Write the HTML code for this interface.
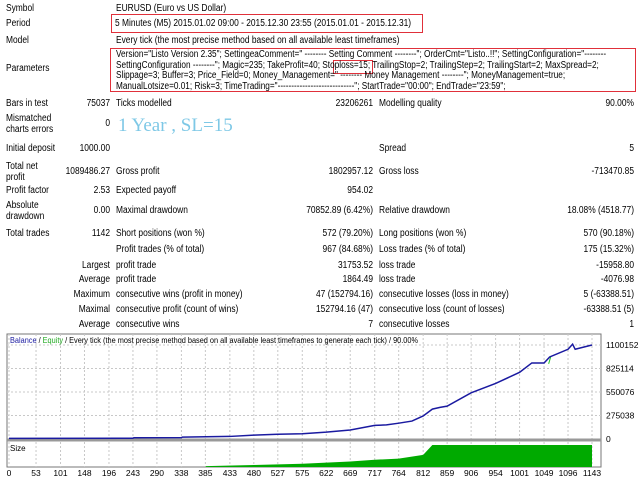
<!DOCTYPE html>
<html><head><meta charset="utf-8">
<style>
body{margin:0;width:640px;height:480px;background:#fff;overflow:hidden;font-family:"Liberation Sans",sans-serif;font-size:10px;color:#000;position:relative}
.t{position:absolute;white-space:nowrap;line-height:11px;transform:scaleX(.84);transform-origin:left top}
.r{text-align:right;transform-origin:right top}
.box{position:absolute;border:1px solid #e0303a}
</style></head><body>
<div id="report">
<div class="t" style="left:6px;top:3px">Symbol</div>
<div class="t" style="left:116px;top:3px">EURUSD (Euro vs US Dollar)</div>
<div class="t" style="left:6px;top:18px">Period</div>
<div class="t" style="left:115px;top:18px">5 Minutes (M5) 2015.01.02 09:00 - 2015.12.30 23:55 (2015.01.01 - 2015.12.31)</div>
<div class="box" style="left:111px;top:14px;width:310px;height:17px"></div>
<div class="t" style="left:6px;top:35px">Model</div>
<div class="t" style="left:116px;top:35px">Every tick (the most precise method based on all available least timeframes)</div>
<div class="t" style="left:6px;top:63px">Parameters</div>
<div class="box" style="left:110px;top:48px;width:524px;height:42px"></div>
<div class="box" style="left:333px;top:60px;width:38px;height:12px"></div>
<div class="t" style="left:116px;top:50px;font-size:9.8px;line-height:10.5px">Version="Listo Version 2.35"; SettingeaComment=" -------- Setting Comment --------"; OrderCmt="Listo..!!"; SettingConfiguration="--------<br>SettingConfiguration --------"; Magic=235; TakeProfit=40; Stoploss=15; TrailingStop=2; TrailingStep=2; TrailingStart=2; MaxSpread=2;<br>Slippage=3; Buffer=3; Price_Field=0; Money_Management=" -------- Money Management --------"; MoneyManagement=true;<br>ManualLotsize=0.01; Risk=3; TimeTrading="----------------------------"; StartTrade="00:00"; EndTrade="23:59";</div>
<div class="t" style="left:6px;top:98px">Bars in test</div>
<div class="t r" style="left:40px;width:70px;top:98px">75037</div>
<div class="t" style="left:116px;top:98px">Ticks modelled</div>
<div class="t r" style="left:253px;width:120px;top:98px">23206261</div>
<div class="t" style="left:379px;top:98px">Modelling quality</div>
<div class="t r" style="left:514px;width:120px;top:98px">90.00%</div>
<div class="t" style="left:6px;top:113px">Mismatched<br>charts errors</div>
<div class="t r" style="left:40px;width:70px;top:118px">0</div>
<div class="t" style="left:118px;top:115px;font-family:'Liberation Serif',serif;font-size:19px;line-height:22px;color:#7ec8e6;transform:none">1 Year , SL=15</div>
<div class="t" style="left:6px;top:143px">Initial deposit</div>
<div class="t r" style="left:40px;width:70px;top:143px">1000.00</div>
<div class="t" style="left:379px;top:143px">Spread</div>
<div class="t r" style="left:514px;width:120px;top:143px">5</div>
<div class="t" style="left:6px;top:161px">Total net<br>profit</div>
<div class="t r" style="left:20px;width:90px;top:166px">1089486.27</div>
<div class="t" style="left:116px;top:166px">Gross profit</div>
<div class="t r" style="left:253px;width:120px;top:166px">1802957.12</div>
<div class="t" style="left:379px;top:166px">Gross loss</div>
<div class="t r" style="left:514px;width:120px;top:166px">-713470.85</div>
<div class="t" style="left:6px;top:185px">Profit factor</div>
<div class="t r" style="left:40px;width:70px;top:185px">2.53</div>
<div class="t" style="left:116px;top:185px">Expected payoff</div>
<div class="t r" style="left:253px;width:120px;top:185px">954.02</div>
<div class="t" style="left:6px;top:200px">Absolute<br>drawdown</div>
<div class="t r" style="left:40px;width:70px;top:205px">0.00</div>
<div class="t" style="left:116px;top:205px">Maximal drawdown</div>
<div class="t r" style="left:233px;width:140px;top:205px">70852.89 (6.42%)</div>
<div class="t" style="left:379px;top:205px">Relative drawdown</div>
<div class="t r" style="left:494px;width:140px;top:205px">18.08% (4518.77)</div>
<div class="t" style="left:6px;top:228px">Total trades</div>
<div class="t r" style="left:40px;width:70px;top:228px">1142</div>
<div class="t" style="left:116px;top:228px">Short positions (won %)</div>
<div class="t r" style="left:233px;width:140px;top:228px">572 (79.20%)</div>
<div class="t" style="left:379px;top:228px">Long positions (won %)</div>
<div class="t r" style="left:494px;width:140px;top:228px">570 (90.18%)</div>
<div class="t" style="left:116px;top:244px">Profit trades (% of total)</div>
<div class="t r" style="left:233px;width:140px;top:244px">967 (84.68%)</div>
<div class="t" style="left:379px;top:244px">Loss trades (% of total)</div>
<div class="t r" style="left:494px;width:140px;top:244px">175 (15.32%)</div>
<div class="t r" style="left:0;width:110px;top:260px">Largest</div>
<div class="t" style="left:116px;top:260px">profit trade</div>
<div class="t r" style="left:233px;width:140px;top:260px">31753.52</div>
<div class="t" style="left:379px;top:260px">loss trade</div>
<div class="t r" style="left:494px;width:140px;top:260px">-15958.80</div>
<div class="t r" style="left:0;width:110px;top:274px">Average</div>
<div class="t" style="left:116px;top:274px">profit trade</div>
<div class="t r" style="left:233px;width:140px;top:274px">1864.49</div>
<div class="t" style="left:379px;top:274px">loss trade</div>
<div class="t r" style="left:494px;width:140px;top:274px">-4076.98</div>
<div class="t r" style="left:0;width:110px;top:289px">Maximum</div>
<div class="t" style="left:116px;top:289px">consecutive wins (profit in money)</div>
<div class="t r" style="left:233px;width:140px;top:289px">47 (152794.16)</div>
<div class="t" style="left:379px;top:289px">consecutive losses (loss in money)</div>
<div class="t r" style="left:494px;width:140px;top:289px">5 (-63388.51)</div>
<div class="t r" style="left:0;width:110px;top:304px">Maximal</div>
<div class="t" style="left:116px;top:304px">consecutive profit (count of wins)</div>
<div class="t r" style="left:233px;width:140px;top:304px">152794.16 (47)</div>
<div class="t" style="left:379px;top:304px">consecutive loss (count of losses)</div>
<div class="t r" style="left:494px;width:140px;top:304px">-63388.51 (5)</div>
<div class="t r" style="left:0;width:110px;top:319px">Average</div>
<div class="t" style="left:116px;top:319px">consecutive wins</div>
<div class="t r" style="left:233px;width:140px;top:319px">7</div>
<div class="t" style="left:379px;top:319px">consecutive losses</div>
<div class="t r" style="left:494px;width:140px;top:319px">1</div>
</div>
<svg id="chart" width="640" height="480" style="position:absolute;left:0;top:0"></svg>
<script>
const xTicks=[0,53,101,148,196,243,290,338,385,433,480,527,575,622,669,717,764,812,859,906,954,1001,1049,1096,1143];
const yTicks=[0,275038,550076,825114,1100152];
const balT=[0,243,245,338,340,433,480,527,575,622,669,717,740,764,790,812,830,845,859,906,954,1001,1025,1049,1060,1096,1105,1110,1143];
const balV=[8000,9000,15000,16000,22000,30000,45000,55000,62000,80000,105000,160000,165000,185000,210000,270000,350000,370000,385000,540000,650000,780000,890000,890000,960000,1050000,1110000,1050000,1100000];
const eqT=[1058,1062];
const eqV=[880000,960000];
const sizeT=[0,385,386,480,575,669,717,764,812,830,1143];
const sizeV=[0,0,0.04,0.09,0.15,0.25,0.33,0.38,0.55,1,1];
const svg=document.getElementById('chart');const NS='http://www.w3.org/2000/svg';
function mk(tag,a){const e=document.createElementNS(NS,tag);for(const k in a)e.setAttribute(k,a[k]);svg.appendChild(e);return e;}
const X0=9,X1=592,L=7,R=601,T=334,B=439,ST=442,SB=467;
const xs=t=>X0+t*(X1-X0)/1143;
const ys=v=>B-v*(B-345)/1100152;
const ss=v=>SB-v*(SB-ST-3);
let e=mk('rect',{x:L,y:T,width:R-L,height:SB-T,fill:'#fff',stroke:'#777'});

xTicks.forEach(t=>{const l=mk('line',{x1:xs(t),x2:xs(t),y1:T,y2:SB,stroke:'#c8c8c8','stroke-dasharray':'2,2'});
const tx=mk('text',{x:xs(t),y:476,'font-size':'8.5','text-anchor':'middle','font-family':'Liberation Sans, sans-serif'});tx.textContent=t;});
yTicks.forEach(v=>{if(v>0){const l=mk('line',{x1:L,x2:R,y1:ys(v),y2:ys(v),stroke:'#c8c8c8','stroke-dasharray':'2,2'});}
const tx=mk('text',{x:606,y:ys(v)+3,'font-size':'8.5','font-family':'Liberation Sans, sans-serif'});tx.textContent=v;});
let sp='M'+xs(sizeT[0])+','+SB;sizeT.forEach((t,i)=>sp+=' L'+xs(t)+','+ss(sizeV[i]));sp+=' L'+xs(1143)+','+SB+' Z';
e=mk('path',{d:sp,fill:'#00aa00'});
e=mk('line',{x1:L,x2:R,y1:B+1,y2:B+1,stroke:'#999','stroke-width':3});
e=mk('polyline',{points:eqT.map((t,i)=>xs(t)+','+ys(eqV[i])).join(' '),fill:'none',stroke:'#22cc22','stroke-width':1});
e=mk('polyline',{points:balT.map((t,i)=>xs(t)+','+ys(balV[i])).join(' '),fill:'none',stroke:'#1a1aa0','stroke-width':1.5});
e=mk('text',{x:10,y:343,'font-size':'8','font-family':'Liberation Sans, sans-serif',textLength:'408',lengthAdjust:'spacingAndGlyphs'});
e.innerHTML='<tspan fill="#1a1aa0">Balance</tspan> / <tspan fill="#22aa22">Equity</tspan> / Every tick (the most precise method based on all available least timeframes to generate each tick) / 90.00%';
e=mk('text',{x:10,y:451,'font-size':'8','font-family':'Liberation Sans, sans-serif'});e.textContent='Size';
</script>
</body></html>
